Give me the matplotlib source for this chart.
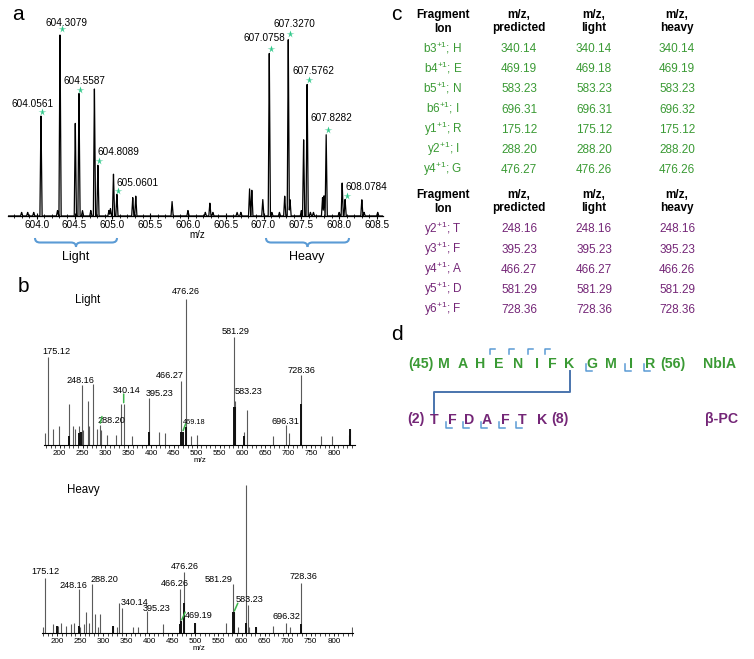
import numpy as np
import matplotlib
matplotlib.use("Agg")
import matplotlib.pyplot as plt
from matplotlib.path import Path
from matplotlib.patches import PathPatch
from matplotlib.transforms import offset_copy

plt.rcParams["font.family"] = ["Liberation Sans", "DejaVu Sans"]
plt.rcParams["mathtext.default"] = "regular"

W, H = 754, 659

# ---- panel a: precursor isotope clusters (relative intensity) ----
ms1_mz = [603.80, 603.88, 603.96, 604.0561, 604.275, 604.3079, 604.51, 604.5587,
          604.605, 604.715, 604.763, 604.8089, 604.955, 604.975, 605.015, 605.0601,
          605.27, 605.31, 605.79, 606.00, 606.23, 606.29, 606.33, 606.65, 606.70,
          606.815, 606.845, 606.99, 607.0758, 607.11, 607.21, 607.28, 607.3270,
          607.35, 607.50, 607.53, 607.5762, 607.62, 607.66, 607.78, 607.80,
          607.8282, 608.00, 608.04, 608.0784, 608.30, 608.33, 608.51]
ms1_int = [2, 2, 2, 55, 3, 100, 51, 67,
           3, 3, 70, 28, 3, 4, 23, 12,
           10, 11, 8, 3, 2, 7, 2, 2, 2,
           15, 14, 9, 89, 2, 2, 11, 97,
           9, 3, 42, 72, 2, 2, 10, 11,
           45, 2, 18, 9, 9, 2, 2]
ms1_labels = [604.0561, 604.3079, 604.5587, 604.8089, 605.0601,
              607.0758, 607.3270, 607.5762, 607.8282, 608.0784]

# ---- panel b: MS/MS spectra ----
light_mz = [167.9, 175.12, 186.1, 199.3, 220.4, 228.5, 233.6, 243.0, 248.16, 250.4,
            261.3, 264.9, 273.7, 282.4, 288.20, 290.5, 303.6, 322.6, 333.6, 340.14,
            357.7, 395.23, 418.2, 429.9, 466.27, 469.18, 476.26, 487.5, 501.4, 581.29,
            583.23, 604.3, 610.8, 667.8, 696.31, 702.7, 728.36, 771.4, 795.5, 834.2, 835.6]
light_int = [8, 60, 11, 13, 28, 13, 11, 13, 41, 10,
             30, 13, 42, 11, 14, 10, 7, 7, 28, 28,
             6, 32, 9, 8, 44, 9, 100, 6, 7, 74,
             30, 9, 24, 6, 14, 8, 48, 6, 6, 7, 11]
light_dark_mz = [220.4, 243.0, 246.0, 395.23, 466.27, 469.18, 476.26, 581.29, 583.23, 604.3, 728.36, 835.6]
light_dark_int = [6, 8, 9, 9, 9, 9, 12, 26, 26, 6, 28, 11]
light_labels = [175.12, 248.16, 288.20, 340.14, 395.23, 466.27, 469.18, 476.26,
                581.29, 583.23, 696.31, 728.36]

heavy_mz = [169.9, 175.12, 191.6, 200.2, 202.4, 209.7, 220.5, 230.6, 236.4, 248.16,
            249.4, 258.1, 263.9, 268.9, 275.4, 283.3, 288.20, 292.7, 321.6, 330.2,
            334.6, 340.14, 364.9, 375.8, 395.23, 429.9, 466.26, 469.19, 476.26, 498.6,
            567.3, 581.29, 583.23, 591.7, 609.5, 610.3, 614.1, 616.3, 632.3, 668.3,
            696.32, 704.4, 728.36, 840.3]
heavy_int = [4, 37, 6, 5, 5, 7, 5, 6, 7, 30,
             4, 6, 14, 7, 33, 13, 4, 13, 5, 4,
             20, 17, 4, 4, 15, 6, 30, 8, 41, 7,
             7, 33, 14, 4, 7, 100, 19, 4, 4, 5,
             7, 4, 34, 4]
heavy_dark_mz = [200.2, 248.16, 321.6, 466.26, 469.19, 476.26, 498.6, 581.29, 583.23, 609.5, 632.3, 728.36]
heavy_dark_int = [5, 5, 5, 6, 8, 20, 7, 14, 14, 7, 4, 6]
heavy_labels = [175.12, 248.16, 288.20, 340.14, 395.23, 466.26, 469.19, 476.26,
                581.29, 583.23, 696.32, 728.36]

# ---- panel c: fragment table ----
nbla_ions = ["b3$^{+1}$; H", "b4$^{+1}$; E", "b5$^{+1}$; N", "b6$^{+1}$; I",
             "y1$^{+1}$; R", "y2$^{+1}$; I", "y4$^{+1}$; G"]
nbla_pred = [340.14, 469.19, 583.23, 696.31, 175.12, 288.20, 476.27]
nbla_light = [340.14, 469.18, 583.23, 696.31, 175.12, 288.20, 476.26]
nbla_heavy = [340.14, 469.19, 583.23, 696.32, 175.12, 288.20, 476.26]
bpc_ions = ["y2$^{+1}$; T", "y3$^{+1}$; F", "y4$^{+1}$; A", "y5$^{+1}$; D", "y6$^{+1}$; F"]
bpc_pred = [248.16, 395.23, 466.27, 581.29, 728.36]
bpc_light = [248.16, 395.23, 466.27, 581.29, 728.36]
bpc_heavy = [248.16, 395.23, 466.26, 581.29, 728.36]
headers = [("Fragment", "Ion"), ("m/z,", "predicted"), ("m/z,", "light"), ("m/z,", "heavy")]

# ---- panel d: cross-linked peptides ----
nbla_seq = "MAHENIFKGMIR"
bpc_seq = "TFDAFTK"
nbla_b_ions = [3, 4, 5, 6]
nbla_y_ions = [1, 2, 4]
bpc_y_ions = [2, 3, 4, 5, 6]

GREEN = "#3a9a34"
PURPLE = "#742677"
BRACE = "#5b9bd5"
LINK = "#4a74ad"
STAR = "#35c98c"
LEAD = "#3cb44a"

fig = plt.figure(figsize=(W / 100, H / 100), dpi=100)


def px_axes(l, t, r, b):
    return fig.add_axes([l / W, 1 - b / H, (r - l) / W, (b - t) / H])


ov = fig.add_axes([0, 0, 1, 1])
ov.set_xlim(0, W)
ov.set_ylim(H, 0)
ov.axis("off")

# ===== panel a =====
ax = px_axes(8, 20, 383, 216)
xa = (603.62, 608.58)
grid = np.linspace(xa[0], xa[1], 8000)
prof = np.zeros_like(grid)
for c, h in zip(ms1_mz, ms1_int):
    prof = np.maximum(prof, h * np.clip(1 - np.abs(grid - c) / 0.014, 0, None))
ax.plot(grid, prof, color="black", lw=0.9)
ax.set_xlim(*xa)
ax.set_ylim(0, 106.5)
for s in ["left", "right", "top"]:
    ax.spines[s].set_visible(False)
ax.spines["bottom"].set_linewidth(0.9)
ax.set_yticks([])
ax.set_xticks(np.arange(604.0, 608.51, 0.5))
ax.set_xticks(np.arange(603.7, 608.55, 0.1), minor=True)
ax.xaxis.set_major_formatter(plt.FormatStrFormatter("%.1f"))
ax.tick_params(axis="x", which="major", direction="inout", length=5, width=0.8,
               labelsize=7.2, pad=0.5)
ax.tick_params(axis="x", which="minor", direction="inout", length=3, width=0.6)
ax.patch.set_alpha(0)

a_off = [(-8, -11, "center"), (6, -9, "center"), (5, -12, "center"), (0, -12, "left"),
         (0, -11, "left"), (-5, -14, "center"), (6, -13, "center"), (6, -12, "center"),
         (5, -15, "center"), (0, -12, "left")]
star_tr = offset_copy(ax.transData, fig=fig, x=1.5, y=3, units="dots")
for mz, (dx, dy, ha) in zip(ms1_labels, a_off):
    h = ms1_int[ms1_mz.index(mz)]
    ax.plot(mz, h, marker="*", color=STAR, ms=5.5, mec="none", transform=star_tr)
    ax.annotate(f"{mz:.4f}", xy=(mz, h), xytext=(dx * 0.72, -dy * 0.72),
                textcoords="offset points", ha=ha, va="center", fontsize=7.2)


def brace(x0, x1, y, h):
    xm = (x0 + x1) / 2
    r = 5
    for sgn, xe in [(1, x0), (-1, x1)]:
        verts = [(xe, y), (xe, y + h / 2), (xe + sgn * r, y + h / 2),
                 (xm - sgn * r, y + h / 2), (xm, y + h / 2), (xm, y + h)]
        codes = [Path.MOVETO, Path.CURVE3, Path.CURVE3, Path.LINETO, Path.CURVE3, Path.CURVE3]
        ov.add_patch(PathPatch(Path(verts, codes), fill=False, ec=BRACE, lw=1.5))


brace(35, 117, 238, 9)
brace(266, 349, 238, 9)
ov.text(76, 257, "Light", ha="center", va="center", fontsize=9)
ov.text(307, 257, "Heavy", ha="center", va="center", fontsize=9)
ov.text(197, 235, "m/z", ha="center", va="center", fontsize=7)
ov.text(18, 15, "a", ha="center", va="center", fontsize=15)

# ===== panel b =====


def stick_panel(box, xl, ytop, mz, inten, dmz, dint, labels, offs, leads, title, title_xy, mz_xy):
    bx = px_axes(*box)
    bx.vlines(mz, 0, inten, color="#5a5a5a", lw=0.8)
    bx.vlines(dmz, 0, dint, color="#111111", lw=1.4)
    bx.set_xlim(*xl)
    bx.set_ylim(0, ytop)
    for s in ["left", "right", "top"]:
        bx.spines[s].set_visible(False)
    bx.spines["bottom"].set_linewidth(0.8)
    bx.set_yticks([])
    bx.set_xticks(np.arange(200, 801, 50))
    bx.set_xticks(np.arange(170, 841, 10), minor=True)
    bx.tick_params(axis="x", which="major", direction="out", length=2.5, width=0.6,
                   labelsize=5.8, pad=1)
    bx.tick_params(axis="x", which="minor", direction="out", length=2, width=0.5)
    bx.patch.set_alpha(0)
    for m, (dx, dy) in zip(labels, offs):
        h = inten[mz.index(m)]
        fs = 5.2 if (m in (469.18,)) else 6.6
        bx.annotate(f"{m:.2f}", xy=(m, h), xytext=(dx * 0.72, -dy * 0.72),
                    textcoords="offset points", ha="center", va="center", fontsize=fs)
    for m, (ex, ey) in leads:
        h = inten[mz.index(m)]
        bx.annotate("", xy=(m, h), xytext=(ex * 0.72, -ey * 0.72), textcoords="offset points",
                    arrowprops=dict(arrowstyle="-", color=LEAD, lw=1.1, shrinkA=0, shrinkB=1))
    ov.text(*title_xy, title, ha="center", va="center", fontsize=8.3)
    ov.text(*mz_xy, "m/z", ha="center", va="center", fontsize=5.8)


light_off = [(8.3, -5.7), (-1.3, -5), (11.7, -4.3), (3.3, -14), (11, -5), (-11, -4.7),
             (11.3, -9), (0, -7), (1.7, -5), (13.7, -9.3), (-1.3, -3.3), (0.7, -4.3)]
heavy_off = [(0, -6.7), (-6, -3.3), (7, -47.7), (13, -5), (9.7, -2.3), (-5.3, -5.6),
             (17.6, -5.2), (0, -6), (-14.3, -5), (16, -12.7), (0, -5.7), (2.3, -6)]
stick_panel((44, 290, 355, 445), (165.7, 846.5), 106, light_mz, light_int,
            light_dark_mz, light_dark_int, light_labels, light_off,
            [(288.20, (2, -8)), (340.14, (0, -10)), (469.18, (3, -8))],
            "Light", (88, 300), (200, 461))
stick_panel((42, 480, 353, 633), (167.6, 841.6), 103.4, heavy_mz, heavy_int,
            heavy_dark_mz, heavy_dark_int, heavy_labels, heavy_off,
            [(469.19, (4, -9)), (583.23, (4, -9))],
            "Heavy", (83, 490), (199, 648))
ov.text(23, 286, "b", ha="center", va="center", fontsize=15)

# ===== panel c =====
ov.text(396, 15, "c", ha="center", va="center", fontsize=15)
col_x = [443, 519, 594, 677]


def table_block(y_head, y_row0, ions, pred, light, heavy, color):
    for cx, (l1, l2) in zip(col_x, headers):
        ov.text(cx, y_head + 4, l1, ha="center", va="baseline", fontsize=8.5, fontweight="bold")
        ov.text(cx, y_head + 17.5, l2, ha="center", va="baseline", fontsize=8.5, fontweight="bold")
    for i in range(len(ions)):
        y = y_row0 + i * 20.15 + 4.2
        ov.text(col_x[0], y, ions[i], ha="center", va="baseline", fontsize=8.5, color=color)
        for cx, vals in zip(col_x[1:], [pred, light, heavy]):
            ov.text(cx, y, f"{vals[i]:.2f}", ha="center", va="baseline", fontsize=8.5, color=color)


table_block(14, 48, nbla_ions, nbla_pred, nbla_light, nbla_heavy, GREEN)
table_block(194, 228.3, bpc_ions, bpc_pred, bpc_light, bpc_heavy, PURPLE)

# ===== panel d =====
ov.text(397, 334, "d", ha="center", va="center", fontsize=15)
nbla_x = [444, 463, 480, 499, 518.5, 537, 552, 569.5, 591.5, 611, 630.5, 650]
bpc_x = [434, 452, 469, 487, 505, 522, 542]
nbla_base, bpc_base = 368, 423.5
seq_fs = 10.2
for ch, x in zip(nbla_seq, nbla_x):
    ov.text(x, nbla_base, ch, ha="center", va="baseline", fontsize=seq_fs,
            fontweight="bold", color=GREEN)
ov.text(434, nbla_base, "(45)", ha="right", va="baseline", fontsize=seq_fs, fontweight="bold", color=GREEN)
ov.text(660, nbla_base, "(56)", ha="left", va="baseline", fontsize=seq_fs, fontweight="bold", color=GREEN)
ov.text(720, nbla_base, "NblA", ha="center", va="baseline", fontsize=seq_fs, fontweight="bold", color=GREEN)
for ch, x in zip(bpc_seq, bpc_x):
    ov.text(x, bpc_base, ch, ha="center", va="baseline", fontsize=seq_fs,
            fontweight="bold", color=PURPLE)
ov.text(425, bpc_base, "(2)", ha="right", va="baseline", fontsize=seq_fs, fontweight="bold", color=PURPLE)
ov.text(551, bpc_base, "(8)", ha="left", va="baseline", fontsize=seq_fs, fontweight="bold", color=PURPLE)
ov.text(722, bpc_base, "β-PC", ha="center", va="baseline", fontsize=seq_fs, fontweight="bold", color=PURPLE)

# b-ion marks above NblA
for k in nbla_b_ions:
    gx = (nbla_x[k - 1] + nbla_x[k]) / 2
    ov.plot([gx, gx, gx + 5], [354, 349, 349], color=BRACE, lw=1.1)
# y-ion marks below
for n in nbla_y_ions:
    lx = nbla_x[len(nbla_seq) - n] - 6
    ov.plot([lx, lx, lx + 6], [nbla_base - 4, nbla_base + 3, nbla_base + 3], color=BRACE, lw=1.1)
for n in bpc_y_ions:
    lx = bpc_x[len(bpc_seq) - n] - 6
    ov.plot([lx, lx, lx + 6], [bpc_base - 2, bpc_base + 4, bpc_base + 4], color=BRACE, lw=1.1)

# cross-link K(NblA) - T(beta-PC)
kx = nbla_x[nbla_seq.index("K")]
tx = bpc_x[0]
ov.plot([kx, kx, tx, tx], [371, 392, 392, 413], color=LINK, lw=1.4)

fig.savefig("out.png", dpi=100)
